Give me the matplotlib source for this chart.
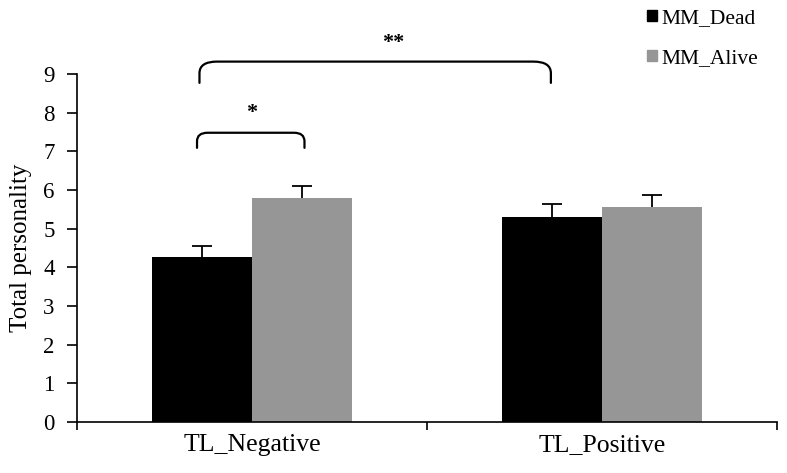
import matplotlib
matplotlib.use('Agg')
import matplotlib.pyplot as plt
from matplotlib.path import Path
from matplotlib.patches import PathPatch, Patch
import numpy as np

plt.rcParams['font.family'] = ['Liberation Serif', 'DejaVu Serif']

categories = ['TL_Negative', 'TL_Positive']
series_names = ['MM_Dead', 'MM_Alive']
dead_means = [4.27, 5.31]
alive_means = [5.78, 5.55]
dead_err = [0.28, 0.34]
alive_err = [0.33, 0.32]
y_ticks = list(range(0, 10))

BAR_W = 0.286
DEAD_COLOR = 'black'
ALIVE_COLOR = '#969696'


def bracket(ax, x0, x1, y_top, y_end, rx, ry, lw=1.6):
    verts = [
        (x0, y_end), (x0, y_top - ry),
        (x0, y_top), (x0 + rx, y_top),
        (x1 - rx, y_top),
        (x1, y_top), (x1, y_top - ry),
        (x1, y_end),
    ]
    codes = [
        Path.MOVETO, Path.LINETO,
        Path.CURVE3, Path.CURVE3,
        Path.LINETO,
        Path.CURVE3, Path.CURVE3,
        Path.LINETO,
    ]
    ax.add_patch(PathPatch(Path(verts, codes), fill=False, lw=lw,
                           edgecolor='black', clip_on=False,
                           capstyle='round'))


def upper_errorbar(ax, xs, means, errs):
    eb = ax.errorbar(xs, means, yerr=[np.zeros(len(errs)), errs],
                     fmt='none', ecolor='black', elinewidth=1.3,
                     capsize=7, capthick=1.3)
    # keep only the top cap
    eb[1][0].set_visible(False)


fig = plt.figure(figsize=(7.87, 4.73), dpi=100)
ax = fig.add_axes([0.0978, 0.1078, 0.8895, 0.7358])

x = np.arange(len(categories))
ax.bar(x - BAR_W / 2, dead_means, BAR_W, color=DEAD_COLOR)
ax.bar(x + BAR_W / 2, alive_means, BAR_W, color=ALIVE_COLOR)
upper_errorbar(ax, x - BAR_W / 2, dead_means, dead_err)
upper_errorbar(ax, x + BAR_W / 2, alive_means, alive_err)

ax.set_xlim(-0.5, 1.5)
ax.set_ylim(0, 9)
ax.set_yticks(y_ticks)
ax.tick_params(axis='y', labelsize=16.5, length=7, width=1.2, pad=9)
ax.set_xticks([-0.5, 0.5, 1.5])
ax.set_xticklabels([])
ax.tick_params(axis='x', length=6, width=1.2)
for xi, name in zip(x, categories):
    ax.text(xi, -0.3, name, ha='center', va='top', fontsize=18.5)
ax.set_ylabel('Total personality', fontsize=18, labelpad=8)

for s in ['top', 'right']:
    ax.spines[s].set_visible(False)
for s in ['left', 'bottom']:
    ax.spines[s].set_linewidth(1.2)

# significance brackets
bracket(ax, -0.15, 0.854, 9.32, 8.77, 0.05, 0.3)
ax.text(0.403, 9.8, '**', ha='center', va='center', fontsize=16,
        fontweight='bold', clip_on=False)
bracket(ax, -0.157, 0.15, 7.48, 7.09, 0.03, 0.22)
ax.text(0.0, 7.98, '*', ha='center', va='center', fontsize=16,
        fontweight='bold', clip_on=False)

handles = [Patch(color=DEAD_COLOR), Patch(color=ALIVE_COLOR)]
fig.legend(handles, series_names, loc='upper left',
           bbox_to_anchor=(0.82, 0.985), frameon=False, fontsize=15.5,
           handlelength=0.45, handleheight=0.45, handletextpad=0.2,
           labelspacing=0.97, borderaxespad=0.0, borderpad=0.1)

fig.savefig('out.png', dpi=100)
